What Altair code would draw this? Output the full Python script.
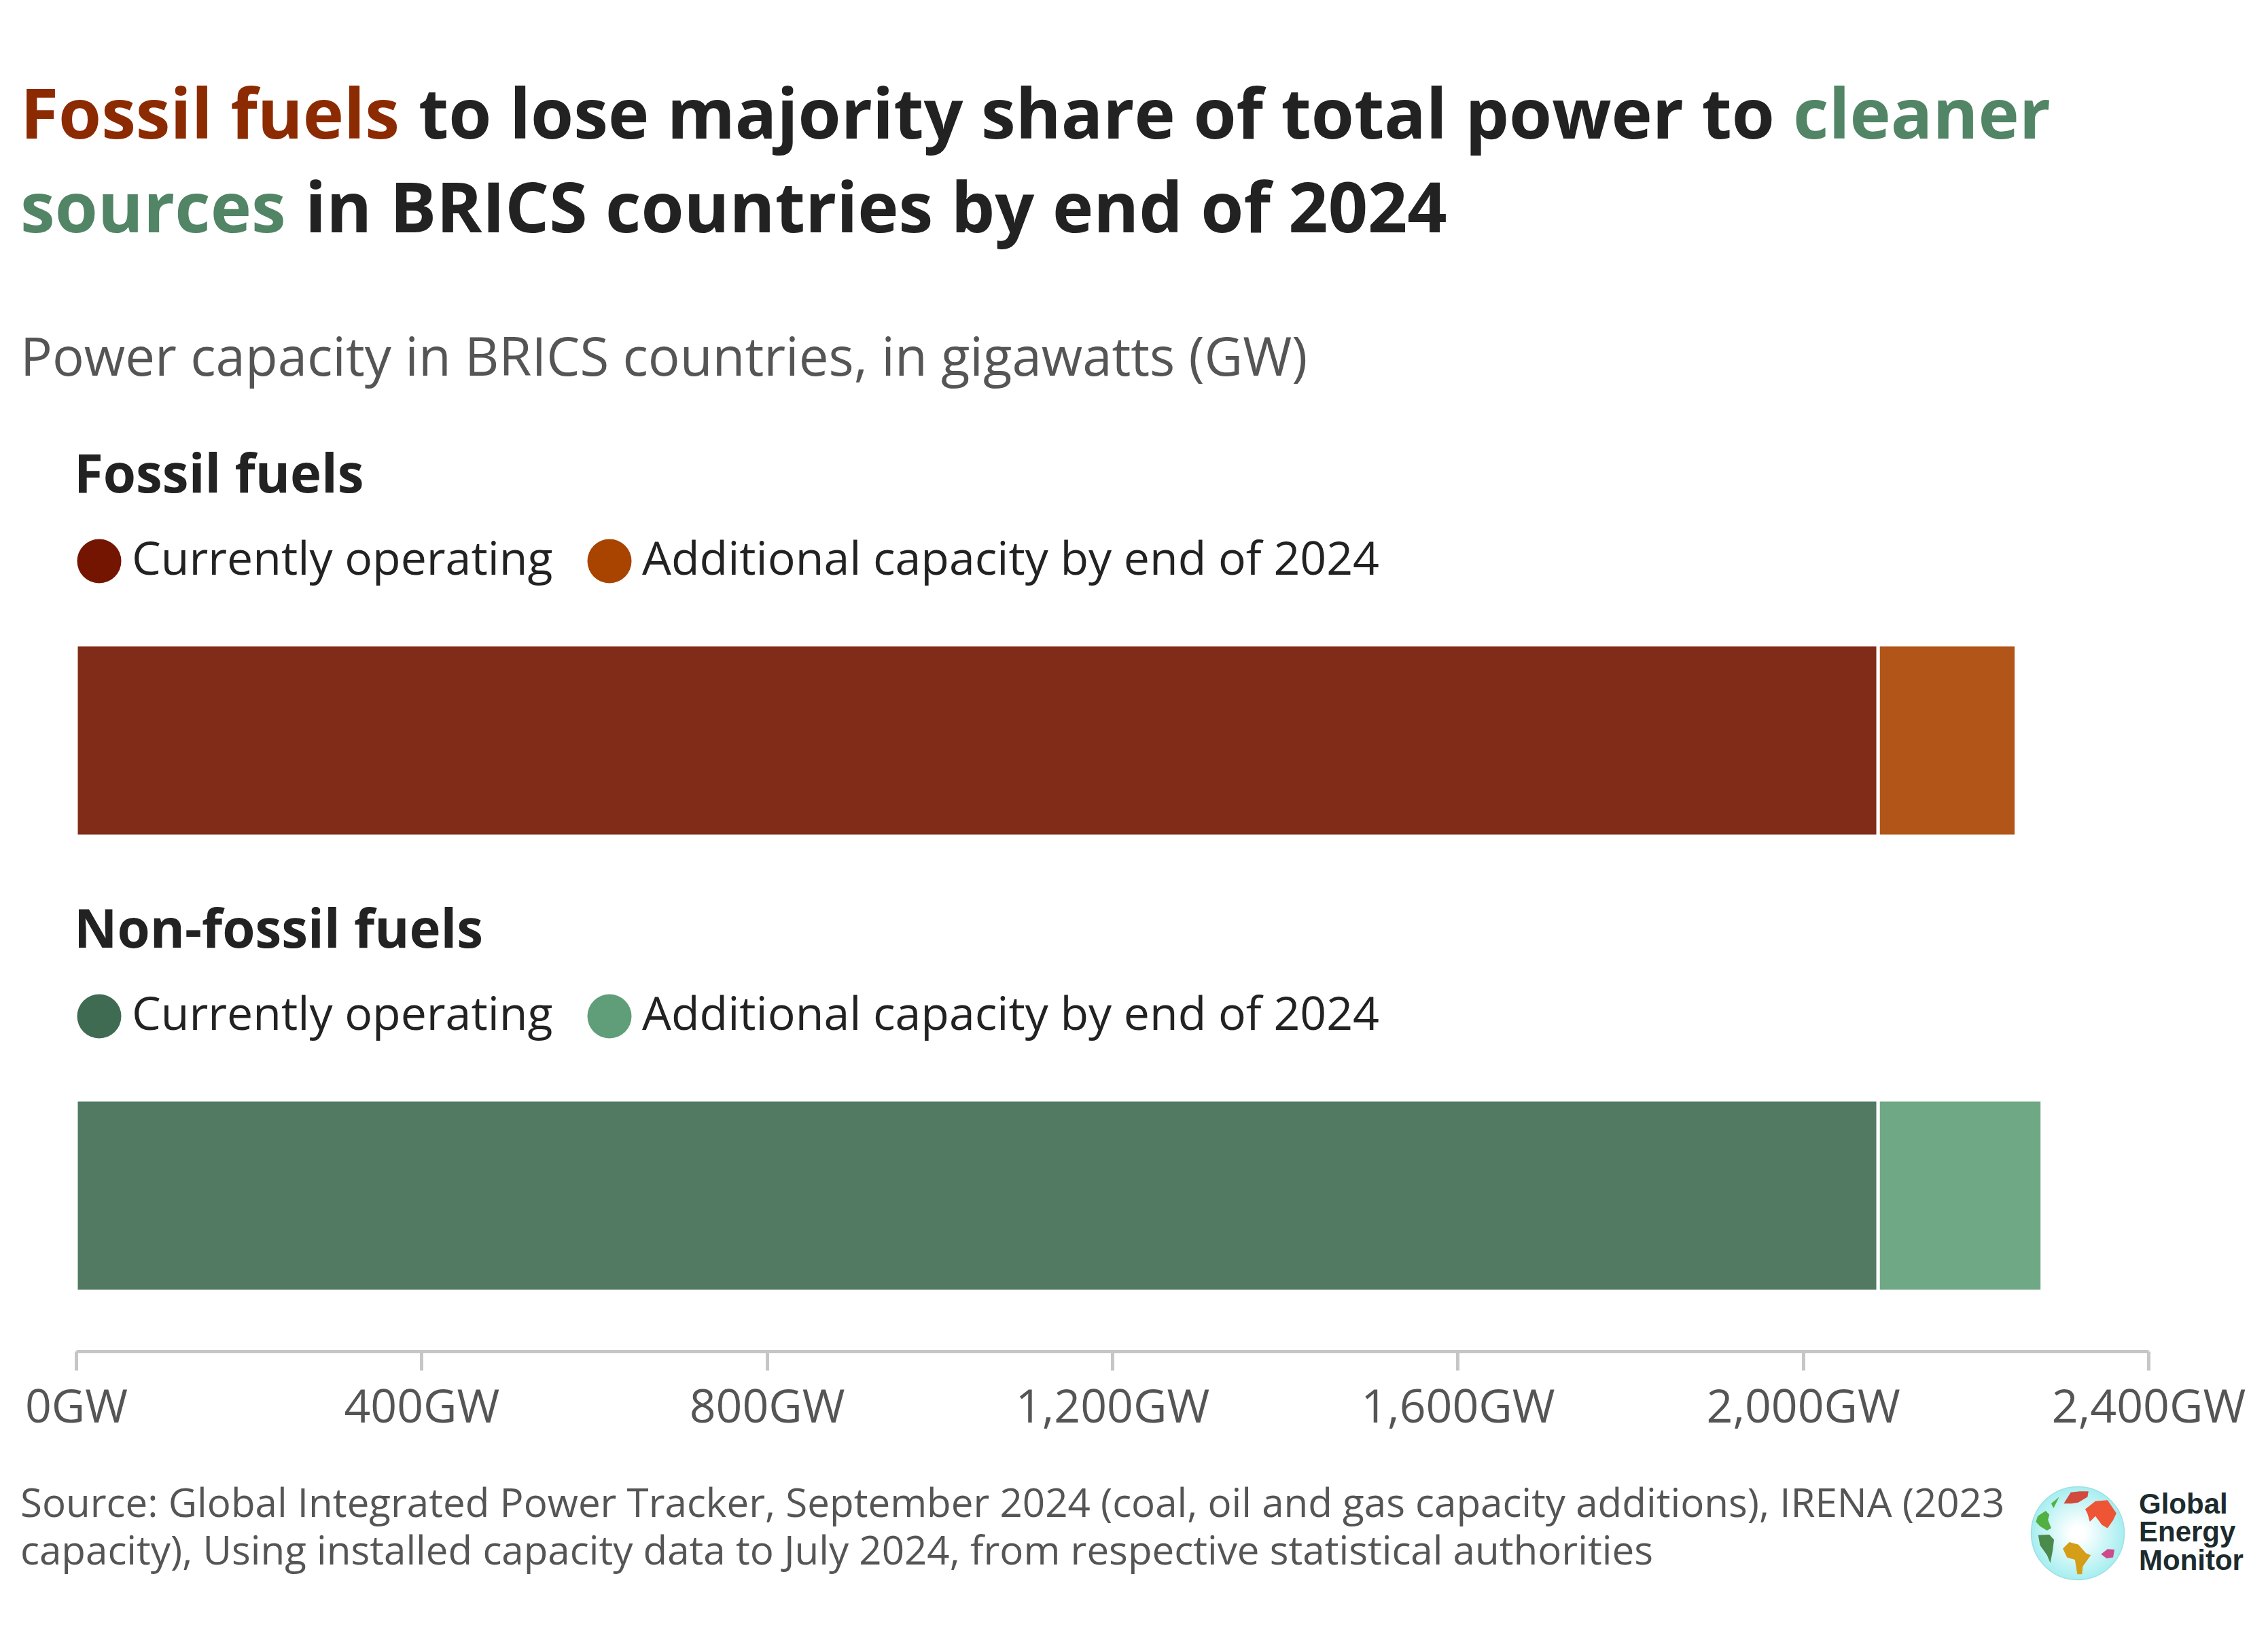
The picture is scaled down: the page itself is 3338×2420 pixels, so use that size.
import altair as alt
import pandas as pd

# ---------------- data ----------------
groups = ["Fossil fuels", "Non-fossil fuels"]
segments = ["Currently operating", "Additional capacity by end of 2024"]
current_gw = [2087, 2087]
additional_gw = [160, 190]
x_ticks = [0, 400, 800, 1200, 1600, 2000, 2400]

title_line1 = ["Fossil fuels", "to lose majority share of total power to", "cleaner"]
title_line2 = ["sources", "in BRICS countries by end of 2024"]
subtitle_text = "Power capacity in BRICS countries, in gigawatts (GW)"
source_lines = [
    "Source: Global Integrated Power Tracker, September 2024 (coal, oil and gas capacity additions), IRENA (2023",
    "capacity), Using installed capacity data to July 2024, from respective statistical authorities",
]
logo_lines = ["Global", "Energy", "Monitor"]

# ---------------- styles ----------------
FONT = "Open Sans"
RED = "#8c2b02"
GREEN = "#518565"
DARK = "#222222"
GREY = "#555555"
fossil_colors = ["#731500", "#a84300"]
clean_colors = ["#3f6b52", "#5f9e78"]

W = 3050
BAR_H = 282
GAP = 388
HEADER_H = 547
FOOTER_H = 60
LEFT = -82
TITLE_SIZE = 102


def text_layer(txt, x, y, size, color, weight="normal", font=FONT):
    return alt.Chart(pd.DataFrame({"t": [txt]})).mark_text(
        align="left", baseline="alphabetic", font=font, fontSize=size,
        fontWeight=weight, color=color,
    ).encode(x=alt.value(x), y=alt.value(y), text="t:N")


header = alt.layer(
    text_layer(title_line1[0], LEFT, 190, TITLE_SIZE, RED, "bold"),
    text_layer(title_line1[1], 504, 190, TITLE_SIZE, DARK, "bold"),
    text_layer(title_line1[2], 2527, 190, TITLE_SIZE, GREEN, "bold"),
    text_layer(title_line2[0], LEFT, 328, TITLE_SIZE, GREEN, "bold"),
    text_layer(title_line2[1], 337, 328, TITLE_SIZE, DARK, "bold"),
    text_layer(subtitle_text, LEFT, 539, 78, GREY),
).properties(width=W, height=HEADER_H)


def bar_chart(i, colors, show_axis):
    df = pd.DataFrame({
        "group": [groups[i]] * 2,
        "segment": segments,
        "value": [current_gw[i], additional_gw[i]],
        "order": [0, 1],
    })
    if show_axis:
        x_axis = alt.Axis(
            values=x_ticks, labelExpr="format(datum.value, ',') + 'GW'",
            grid=False, title=None, domainColor="#c6c6c6", domainWidth=5,
            tickColor="#c6c6c6", tickWidth=5, tickSize=28,
            labelFont=FONT, labelFontSize=68, labelColor=GREY,
            labelPadding=22, offset=88, labelFlush=False, labelOverlap=False,
            labelLimit=2000,
        )
    else:
        x_axis = None
    return alt.Chart(df).mark_bar(
        stroke="white", strokeWidth=5, fillOpacity=0.9
    ).encode(
        x=alt.X("value:Q", stack="zero",
                scale=alt.Scale(domain=[0, 2400], nice=False), axis=x_axis),
        y=alt.Y("group:N", axis=None,
                scale=alt.Scale(paddingInner=0, paddingOuter=0)),
        color=alt.Color(
            "segment:N", title=None,
            scale=alt.Scale(domain=segments, range=colors),
            legend=alt.Legend(
                orient="top", direction="horizontal", symbolType="circle",
                symbolSize=4225, symbolOpacity=1, symbolStrokeWidth=0,
                labelFont=FONT, labelFontSize=68, labelColor=DARK,
                labelOffset=14, columnPadding=49, offset=89, padding=0,
                labelLimit=3000,
            ),
        ),
        order=alt.Order("order:Q"),
    ).properties(
        width=W, height=BAR_H,
        title=alt.TitleParams(
            groups[i], anchor="start", frame="group", font=FONT,
            fontSize=78, fontWeight="bold", color=DARK, offset=0, dy=11,
            baseline="alphabetic", dx=-3,
        ),
    )


fossil = bar_chart(0, fossil_colors, False)
clean = bar_chart(1, clean_colors, True)

# ---------------- footer with source and logo ----------------
LOGO_X = 2946
LOGO_Y = -32
LOGO_SIZE = 137 * 137

globe_fill = alt.RadialGradient(
    gradient="radial",
    stops=[alt.GradientStop(color="#ffffff", offset=0.15),
           alt.GradientStop(color="#a6eef0", offset=1)],
)

continents = [
    ("M-0.69 -0.48 L-0.61 -0.40 L-0.64 -0.29 L-0.57 -0.11 L-0.66 -0.06 L-0.81 -0.15 L-0.90 -0.25 L-0.86 -0.37 Z", "#52b043"),
    ("M-0.57 -0.64 L-0.40 -0.78 L-0.52 -0.54 Z", "#52b043"),
    ("M-0.85 0.04 L-0.61 0.03 L-0.51 0.14 L-0.54 0.38 L-0.59 0.64 L-0.66 0.47 L-0.81 0.26 Z", "#4a8a4a"),
    ("M-0.30 -0.64 L-0.15 -0.88 L0.04 -0.90 L0.23 -0.90 L0.21 -0.78 L0.01 -0.66 L-0.13 -0.64 Z", "#d24a3c"),
    ("M0.16 -0.52 L0.38 -0.69 L0.64 -0.71 L0.83 -0.43 L0.76 -0.28 L0.64 -0.11 L0.52 -0.18 L0.38 -0.37 L0.26 -0.25 L0.21 -0.42 Z", "#ee5535"),
    ("M-0.32 0.33 L-0.18 0.19 L0.01 0.24 L0.18 0.43 L0.28 0.47 L0.11 0.71 L0.09 0.88 L-0.01 0.88 L-0.06 0.57 L-0.23 0.52 Z", "#d49e18"),
    ("M0.50 0.45 L0.64 0.34 L0.79 0.35 L0.76 0.52 L0.62 0.54 Z", "#cf4a8a"),
]

one = pd.DataFrame({"k": [0]})
globe = alt.Chart(one).mark_point(
    shape="circle", size=LOGO_SIZE, filled=True, fill=globe_fill,
    stroke="#a0dfe2", strokeWidth=1.5, opacity=1,
).encode(x=alt.value(LOGO_X), y=alt.value(LOGO_Y))

continent_layers = [
    alt.Chart(one).mark_point(
        shape=path, size=LOGO_SIZE, filled=True, fill=col, opacity=1,
        strokeWidth=0,
    ).encode(x=alt.value(LOGO_X), y=alt.value(LOGO_Y))
    for path, col in continents
]

footer = alt.layer(
    text_layer(source_lines[0], LEFT, -56, 58.3, GREY),
    text_layer(source_lines[1], LEFT, 14, 58.3, GREY),
    globe,
    *continent_layers,
    text_layer(logo_lines[0], 3036, -61, 42, "#1c2b2e", "bold", "Liberation Sans"),
    text_layer(logo_lines[1], 3036, -20, 42, "#1c2b2e", "bold", "Liberation Sans"),
    text_layer(logo_lines[2], 3036, 22, 42, "#1c2b2e", "bold", "Liberation Sans"),
).properties(width=W, height=FOOTER_H)

chart = alt.vconcat(
    header, fossil, clean, footer, spacing=GAP, bounds="flush",
).resolve_scale(color="independent").properties(
    padding={"left": 21, "top": 5, "right": 20, "bottom": 20},
    background="white",
).configure(font=FONT).configure_view(stroke="transparent")

chart.save("out.html", embed_options={"renderer": "svg", "actions": False})
